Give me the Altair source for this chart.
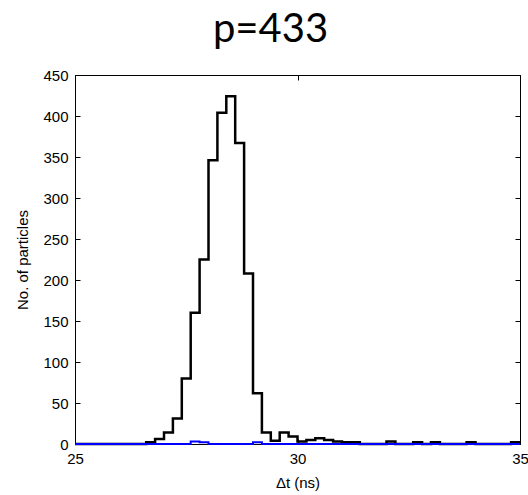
import altair as alt
import pandas as pd

# Histogram bins: 0.2 ns wide, starting at 25 ns
bin_start = 25.0
bin_width = 0.2
black_counts = [0, 0, 0, 0, 0, 0, 0, 0,
                2, 6, 14, 31, 80, 160, 225, 346, 404, 424, 367, 208, 62, 14, 4, 14,
                9, 3, 5, 7, 5, 3, 2, 2,
                0, 0, 0, 3, 0, 0, 2, 0, 2, 0, 0, 0, 2, 0, 0, 0, 0, 2]
blue_counts = [0, 0, 0, 0, 0, 0, 0, 0, 0, 0, 0, 0, 0, 3, 2, 0, 0, 0, 0, 0, 2, 0, 0, 0, 0,
               0, 0, 0, 0, 0, 0, 0, 0, 0, 0, 0, 0, 0, 0, 0, 0, 0, 0, 0, 0, 0, 0, 0, 0, 0]
x_ticks = [25, 30, 35]
y_ticks = [0, 50, 100, 150, 200, 250, 300, 350, 400, 450]

edges = [bin_start + bin_width * i for i in range(len(black_counts) + 1)]
df = pd.DataFrame({
    "t": edges,
    "black": black_counts + [black_counts[-1]],
    "blue": blue_counts + [blue_counts[-1]],
})

x_scale = alt.Scale(domain=[25, 35], nice=False, zero=False)
y_scale = alt.Scale(domain=[0, 450], nice=False)

common = dict(domain=False, grid=False, tickColor="black", tickSize=5, tickWidth=1,
              offset=-5, labelFont="Liberation Sans", labelFontSize=15,
              labelColor="black", labelFlush=False, labelOverlap=False,
              titleFont="Liberation Sans", titleFontSize=15, titleColor="black",
              titleFontWeight="normal")

black = alt.Chart(df).mark_line(interpolate="step-after", color="black", strokeWidth=2.5).encode(
    x=alt.X("t:Q", scale=x_scale,
            axis=alt.Axis(orient="bottom", values=x_ticks, title="Δt (ns)",
                          labelPadding=7, titlePadding=9, **common)),
    y=alt.Y("black:Q", scale=y_scale,
            axis=alt.Axis(orient="left", values=y_ticks, title="No. of particles",
                          labelPadding=7, titlePadding=12, **common)),
)

blue = alt.Chart(df).mark_line(interpolate="step-after", color="#0000ff", strokeWidth=2).encode(
    x=alt.X("t:Q", scale=x_scale, title=None,
            axis=alt.Axis(orient="top", values=x_ticks, labels=False, **common)),
    y=alt.Y("blue:Q", scale=y_scale, title=None,
            axis=alt.Axis(orient="right", values=y_ticks, labels=False, **common)),
)

chart = alt.layer(black, blue).resolve_axis(x="independent", y="independent").properties(
    width=445, height=369,
    autosize=alt.AutoSizeParams(type="none"),
    padding={"left": 75, "top": 75, "right": 8, "bottom": 51},
    title=alt.TitleParams("p=433", font="Lato", fontSize=40, fontWeight="normal",
                          color="black", anchor="middle", offset=18, dx=-27),
).configure_view(stroke="black", strokeWidth=1)

chart.save("out.html", embed_options={"renderer": "svg", "actions": False})
